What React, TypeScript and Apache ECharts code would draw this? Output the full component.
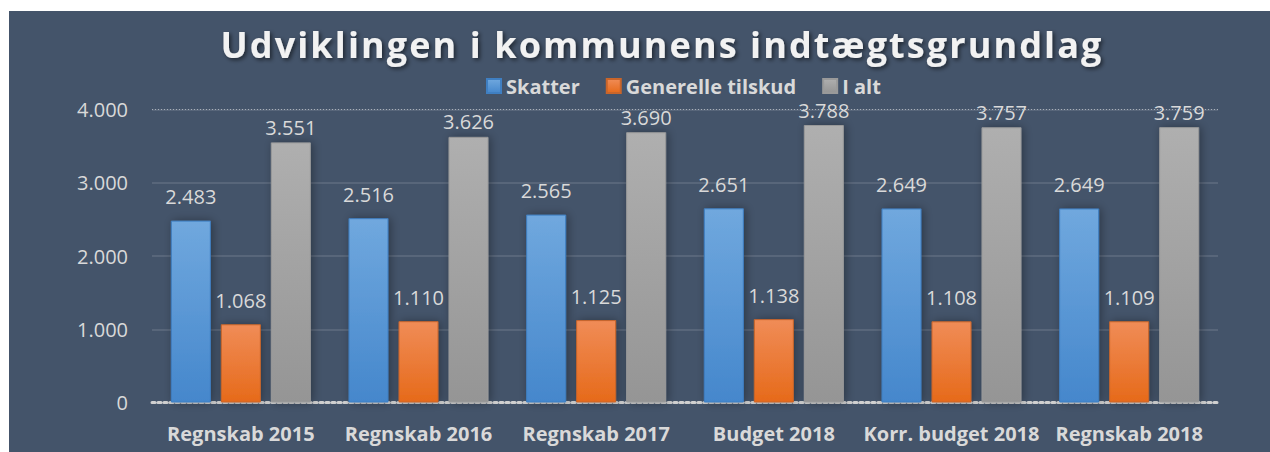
import React, { useEffect, useRef } from "react";
import * as echarts from "echarts";

const categories = ["Regnskab 2015", "Regnskab 2016", "Regnskab 2017", "Budget 2018", "Korr. budget 2018", "Regnskab 2018"];
const skatter = [2483, 2516, 2565, 2651, 2649, 2649];
const tilskud = [1068, 1110, 1125, 1138, 1108, 1109];
const iAlt = [3551, 3626, 3690, 3788, 3757, 3759];
const seriesNames = ["Skatter", "Generelle tilskud", "I alt"];
const titleText = "Udviklingen i kommunens indtægtsgrundlag";

const fmt = (v: number) => {
  const s = String(Math.round(v));
  return s.replace(/\B(?=(\d{3})+(?!\d))/g, ".");
};

const grad = (top: string, bottom: string) =>
  new echarts.graphic.LinearGradient(0, 0, 0, 1, [
    { offset: 0, color: top },
    { offset: 1, color: bottom },
  ]);

export default function App() {
  const ref = useRef<HTMLDivElement>(null);
  useEffect(() => {
    if (!ref.current) return;
    const chart = echarts.init(ref.current, null, { renderer: "svg" });
    const font = "'Open Sans', 'DejaVu Sans', sans-serif";
    const mkLabel = (distance: number) => ({
      show: true,
      position: "top" as const,
      distance,
      color: "#d9d9d9",
      fontSize: 20,
      fontFamily: font,
      formatter: (p: any) => fmt(p.value),
    });
    const mk = (
      name: string,
      data: number[],
      top: string,
      bottom: string,
      border: string,
      legendColor: string,
      distance: number
    ) => ({
      name,
      type: "bar",
      data,
      barWidth: 40,
      barGap: "25%",
      color: legendColor,
      itemStyle: {
        color: grad(top, bottom),
        borderColor: border,
        borderWidth: 1,
        shadowBlur: 10,
        shadowColor: "rgba(0,0,0,0.35)",
        shadowOffsetX: 2,
        shadowOffsetY: 0,
      },
      label: mkLabel(distance),
    });
    const s0: any = mk(seriesNames[0], skatter, "#70a8de", "#4587cc", "#3f7fc2", "#5b9bd5", 14);
    s0.markLine = {
      silent: true,
      symbol: "none",
      label: { show: false },
      lineStyle: { color: "rgba(235,235,235,0.55)", width: 1, type: [1, 2] },
      data: [{ yAxis: 4000 }],
    };
    chart.setOption({
      animation: false,
      backgroundColor: "#44546A",
      title: {
        text: titleText,
        left: 648,
        textAlign: "center",
        top: 10,
        textStyle: {
          color: "#f2f2f2",
          fontSize: 36,
          fontWeight: "bold",
          fontFamily: font,
          textShadowColor: "rgba(0,0,0,0.55)",
          textShadowBlur: 4,
          textShadowOffsetX: 2,
          textShadowOffsetY: 2,
        },
      },
      legend: {
        top: 60,
        left: 472,
        itemWidth: 14,
        itemHeight: 14,
        itemGap: 26,
        icon: "rect",
        data: seriesNames,
        textStyle: {
          color: "#d9d9d9",
          fontSize: 20,
          fontWeight: "bold",
          fontFamily: font,
        },
      },
      grid: { left: 143, right: 52, top: 98.5, bottom: 49.5 },
      xAxis: {
        type: "category",
        data: categories,
        axisTick: { show: false },
        axisLine: { lineStyle: { color: "#d0d0d0", width: 3, type: "dotted" } },
        axisLabel: {
          color: "#d9d9d9",
          fontSize: 20,
          fontWeight: "bold",
          fontFamily: font,
          margin: 21,
          interval: 0,
        },
      },
      yAxis: {
        type: "value",
        min: 0,
        max: 4000,
        interval: 1000,
        axisLabel: {
          color: "#d9d9d9",
          fontSize: 20,
          fontFamily: font,
          margin: 24,
          formatter: (v: number) => fmt(v),
        },
        axisLine: { show: false },
        axisTick: { show: false },
        splitLine: { lineStyle: { color: "rgba(255,255,255,0.11)", width: 2, type: "solid" } },
      },
      series: [
        s0,
        mk(seriesNames[1], tilskud, "#f08c57", "#e66a1a", "#c9652a", "#ed7d31", 14),
        mk(seriesNames[2], iAlt, "#afafaf", "#959595", "#9a9a9a", "#a5a5a5", 5),
      ],
    });
    return () => chart.dispose();
  }, []);
  return (
    <>
      <style>{`#root svg text[style*="36px"] { letter-spacing: 2.1px; }`}</style>
      <div
        ref={ref}
        style={{ position: "absolute", left: 9, top: 11, width: 1261, height: 441 }}
      />
    </>
  );
}
